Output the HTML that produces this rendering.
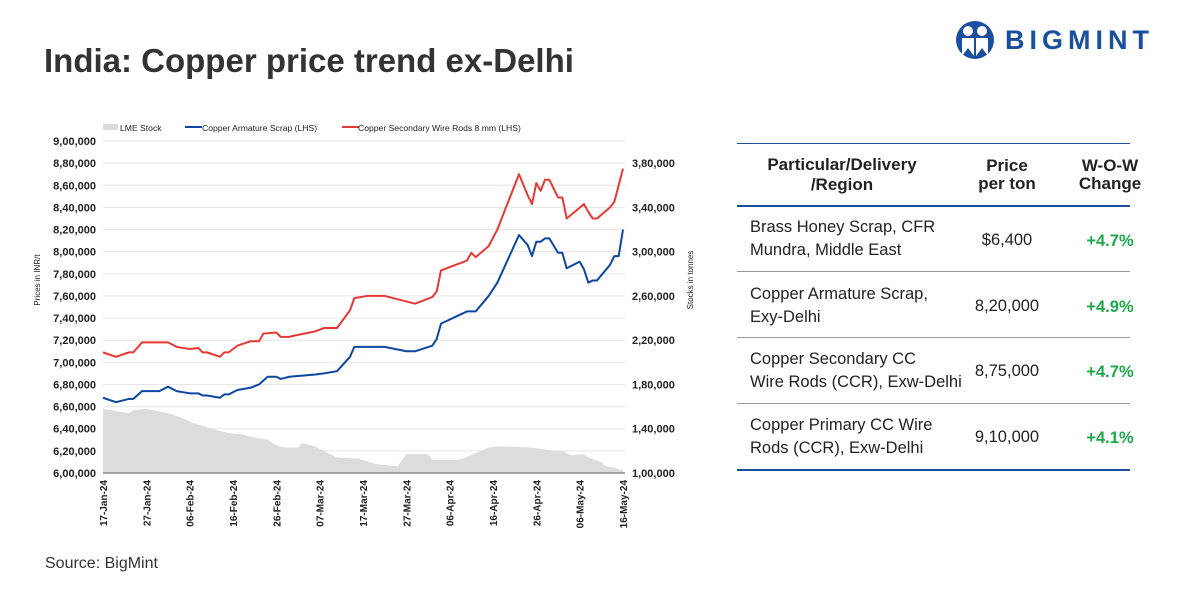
<!DOCTYPE html>
<html><head><meta charset="utf-8">
<style>
body{margin:0;width:1200px;height:600px;background:#fff;font-family:"Liberation Sans",sans-serif;position:relative;overflow:hidden}
.title{position:absolute;left:44px;top:42px;font-size:33px;font-weight:bold;color:#333}
.source{position:absolute;left:45px;top:555px;font-size:16px;color:#333}
.tbl{position:absolute;left:737px;top:143px;width:393px;color:#222;font-size:16.5px}
.row{position:absolute;left:0;width:393px;border-bottom:1px solid #9a9a9a}
.c1{position:absolute;left:13px;line-height:23px}
.c2{position:absolute;left:230px;width:80px;text-align:center}
.c3{position:absolute;left:330px;width:86px;text-align:center;color:#1fa84a;font-weight:bold}
</style></head><body>
<div class="title">India: Copper price trend ex-Delhi</div>
<div class="source">Source: BigMint</div>
<div style="position:absolute;left:955px;top:20px;width:210px;height:40px">
<svg width="40" height="40" viewBox="0 0 40 40"><circle cx="20" cy="20" r="19" fill="#1a4fa0"/><circle cx="13" cy="11" r="5" fill="#fff"/><circle cx="27" cy="11" r="5" fill="#fff"/><path d="M7 18h12v18l-6-8-6 8z M21 18h12v18l-6-8-6 8z" fill="#fff"/></svg>
<span style="position:absolute;left:50px;top:5px;font-size:27px;font-weight:bold;color:#1a4fa0;letter-spacing:5px">BIGMINT</span></div>

<svg id="chart" width="720" height="560" style="position:absolute;left:0;top:0"></svg>

<div class="tbl">
<div style="position:absolute;left:0;top:0;width:393px;height:1px;background:#1a4fa0"></div>
<div class="row" style="top:0;height:62px;border-bottom:2px solid #1a4fa0;font-weight:bold;font-size:17px">
<div style="position:absolute;left:0;width:210px;top:12px;text-align:center;line-height:20px">Particular/Delivery<br>/Region</div>
<div class="c2" style="top:14px;color:#222;line-height:18px;left:225px;width:90px">Price<br>per ton</div>
<div class="c3" style="top:14px;color:#222;line-height:18px">W-O-W<br>Change</div></div>
<div class="row" style="top:64px;height:64px"><div class="c1" style="top:9px">Brass Honey Scrap, CFR<br>Mundra, Middle East</div><div class="c2" style="top:24px">$6,400</div><div class="c3" style="top:25px">+4.7%</div></div>
<div class="row" style="top:129px;height:65px"><div class="c1" style="top:11px">Copper Armature Scrap,<br>Exy-Delhi</div><div class="c2" style="top:25px">8,20,000</div><div class="c3" style="top:26px">+4.9%</div></div>
<div class="row" style="top:195px;height:65px"><div class="c1" style="top:10px">Copper Secondary CC<br>Wire Rods (CCR), Exw-Delhi</div><div class="c2" style="top:24px">8,75,000</div><div class="c3" style="top:25px">+4.7%</div></div>
<div class="row" style="top:261px;height:65px;border-bottom:2px solid #1a4fa0"><div class="c1" style="top:10px">Copper Primary CC Wire<br>Rods (CCR), Exw-Delhi</div><div class="c2" style="top:24px">9,10,000</div><div class="c3" style="top:25px">+4.1%</div></div>
</div>

<script>
const dateLabels=["17-Jan-24","27-Jan-24","06-Feb-24","16-Feb-24","26-Feb-24","07-Mar-24","17-Mar-24","27-Mar-24","06-Apr-24","16-Apr-24","26-Apr-24","06-May-24","16-May-24"];
const leftTicks=[600000,620000,640000,660000,680000,700000,720000,740000,760000,780000,800000,820000,840000,860000,880000,900000];
const rightTicks=[100000,140000,180000,220000,260000,300000,340000,380000];
const redDays=[0,3,6,7,9,15,17,20,22,23,24,27,28,29,31,34,36,37,40,41,43,44,49,51,54,57,58,61,65,72,76,77,78,84,85,86,89,91,96,98,99,100,101,102,103,105,106,107,111,112,113,114,117,118,120];
const redVals=[709,705,709,709,718,718,714,712,713,709,709,705,709,709,715,719,719,726,727,723,723,724,728,731,731,747,758,760,760,753,759,764,783,792,799,795,805,820,870,851,843,862,855,865,865,849,849,830,843,836,830,830,840,845,875];
const blueDays=[0,3,6,7,9,13,15,17,20,22,23,24,27,28,29,31,34,36,38,40,41,43,49,51,54,57,58,63,65,70,72,76,77,78,84,86,89,91,96,98,99,100,101,102,103,105,106,107,110,111,112,113,114,117,118,119,120];
const blueVals=[668,664,667,667,674,674,678,674,672,672,670,670,668,671,671,675,677,680,687,687,685,687,689,690,692,705,714,714,714,710,710,715,721,735,746,746,760,772,815,806,796,809,809,812,812,799,799,785,791,784,772,774,774,788,796,796,820];
const stockDays=[0,3,6,7,10,15,18,21,25,29,32,35,38,40,42,45,46,49,52,54,59,63,68,70,75,76,82,83,89,91,99,104,106,108,111,112,115,116,118,119,120];
const stockVals=[158,156,154,157,158,154,150,145,140,136,135,132,130,125,123,123,127,124,118,114,113,108,106,117,117,112,112,113,123,124,123,120,120,116,117,114,110,106,105,103,103];

const NS="http://www.w3.org/2000/svg",svg=document.getElementById('chart');
const X0=103,X1=623,Y0=473,Y1=141;
const xs=d=>X0+d*(X1-X0)/120;
const yL=v=>Y0-(v-600000)*(Y0-Y1)/300000;
const yR=v=>Y0-(v-100000)*(Y0-Y1)/300000;
function mk(t,a,txt){const e=document.createElementNS(NS,t);for(const k in a)e.setAttribute(k,a[k]);if(txt!=null)e.textContent=txt;svg.appendChild(e);return e;}
const fmt=v=>v.toLocaleString('en-IN');
leftTicks.forEach(v=>{
 const g=mk('line',{x1:X0,x2:X1+2,y1:yL(v),y2:yL(v),stroke:'#e6e6e6','stroke-width':1});
 
 
 const t=mk('text',{x:96,y:yL(v)+4,'text-anchor':'end','font-size':11,'font-weight':'bold',fill:'#222'},fmt(v));
 
 
});
rightTicks.forEach(v=>{
 const t=mk('text',{x:632,y:yR(v)+4,'font-size':11,'font-weight':'bold',fill:'#222'},fmt(v));
 
 
});
let ap='M'+xs(stockDays[0])+','+Y0;
stockDays.forEach((d,i)=>ap+=' L'+xs(d)+','+yR(stockVals[i]*1000));
ap+=' L'+xs(stockDays[stockDays.length-1])+','+Y0+'Z';
const area=mk('path',{d:ap,fill:'#dcdcdc'});


const ax=mk('line',{x1:X0,x2:X1+2,y1:Y0,y2:Y0,stroke:'#888','stroke-width':1.5});


function line(days,vals,col,name){
 const p=mk('polyline',{points:days.map((d,i)=>xs(d)+','+yL(vals[i]*1000)).join(' '),fill:'none',stroke:col,'stroke-width':2,'stroke-linejoin':'round'});
 
 
}
line(redDays,redVals,'#e53935','copper-secondary-wire-rods-line');
line(blueDays,blueVals,'#0d47a1','copper-armature-scrap-line');
dateLabels.forEach((s,i)=>{
 const x=xs(i*10)+4,y=480;
 const t=mk('text',{x:x,y:y,transform:`rotate(-90 ${x} ${y})`,'text-anchor':'end','font-size':10,'font-weight':'bold',fill:'#222'},s);
 
 
});
let t=mk('text',{x:40,y:280,transform:'rotate(-90 40 280)','text-anchor':'middle','font-size':8,fill:'#222'},'Prices in INR/t');


t=mk('text',{x:693,y:280,transform:'rotate(-90 693 280)','text-anchor':'middle','font-size':8,fill:'#222'},'Stocks in tonnes');


const leg=[['rect',103,'#dcdcdc','LME Stock',120],['line',185,'#0d47a1','Copper Armature Scrap (LHS)',202],['line',342,'#e53935','Copper Secondary Wire Rods 8 mm (LHS)',358]];
leg.forEach(l=>{
 let m;
 if(l[0]=='rect')m=mk('rect',{x:l[1],y:124,width:15,height:6,fill:l[2]});
 else m=mk('line',{x1:l[1],x2:l[1]+17,y1:127,y2:127,stroke:l[2],'stroke-width':2});
 
 
 const tx=mk('text',{x:l[4],y:131,'font-size':8.6,fill:'#222'},l[3]);
 
 
});
</script>
</body></html>
